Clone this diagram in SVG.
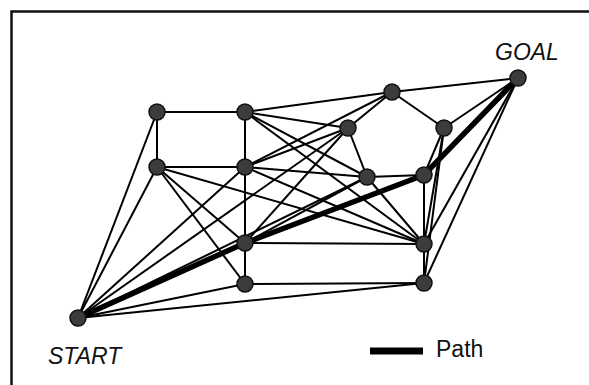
<svg xmlns="http://www.w3.org/2000/svg" width="589" height="385" viewBox="0 0 589 385">
<style>
.frame{fill:none;stroke:#111;stroke-width:2.5}
.e{stroke:#000;stroke-width:2;fill:none}
.p{stroke:#000;stroke-width:5.5;fill:none;stroke-linecap:round}
.n{fill:#3c3c3c;stroke:#111;stroke-width:1.5}
.lbl{font-family:"Liberation Sans",Arial,sans-serif;font-size:23px;fill:#111}
.it{font-style:italic}
</style>
<rect class="frame" x="11.5" y="11.5" width="620" height="420"/>
<g id="connectors">
<line class="e" x1="157" y1="112" x2="245" y2="112"/>
<line class="e" x1="157" y1="112" x2="157" y2="167"/>
<line class="e" x1="245" y1="112" x2="245" y2="167"/>
<line class="e" x1="157" y1="167" x2="245" y2="167"/>
<line class="e" x1="392" y1="92" x2="348" y2="128"/>
<line class="e" x1="392" y1="92" x2="444" y2="128"/>
<line class="e" x1="348" y1="128" x2="367" y2="177"/>
<line class="e" x1="367" y1="177" x2="424" y2="175"/>
<line class="e" x1="444" y1="128" x2="424" y2="175"/>
<line class="e" x1="245" y1="243" x2="245" y2="284"/>
<line class="e" x1="245" y1="243" x2="424" y2="244"/>
<line class="e" x1="245" y1="284" x2="424" y2="283"/>
<line class="e" x1="424" y1="244" x2="424" y2="283"/>
<line class="e" x1="78" y1="318" x2="157" y2="112"/>
<line class="e" x1="78" y1="318" x2="157" y2="167"/>
<line class="e" x1="78" y1="318" x2="245" y2="167"/>
<line class="e" x1="78" y1="318" x2="348" y2="128"/>
<line class="e" x1="78" y1="318" x2="367" y2="177"/>
<line class="e" x1="78" y1="318" x2="245" y2="284"/>
<line class="e" x1="78" y1="318" x2="424" y2="283"/>
<line class="e" x1="518" y1="78" x2="392" y2="92"/>
<line class="e" x1="518" y1="78" x2="444" y2="128"/>
<line class="e" x1="518" y1="78" x2="424" y2="244"/>
<line class="e" x1="518" y1="78" x2="424" y2="283"/>
<line class="e" x1="245" y1="112" x2="392" y2="92"/>
<line class="e" x1="245" y1="112" x2="348" y2="128"/>
<line class="e" x1="245" y1="112" x2="367" y2="177"/>
<line class="e" x1="245" y1="112" x2="424" y2="244"/>
<line class="e" x1="157" y1="167" x2="245" y2="243"/>
<line class="e" x1="157" y1="167" x2="245" y2="284"/>
<line class="e" x1="157" y1="167" x2="424" y2="244"/>
<line class="e" x1="245" y1="167" x2="392" y2="92"/>
<line class="e" x1="245" y1="167" x2="348" y2="128"/>
<line class="e" x1="245" y1="167" x2="367" y2="177"/>
<line class="e" x1="245" y1="167" x2="245" y2="243"/>
<line class="e" x1="245" y1="167" x2="424" y2="244"/>
<line class="e" x1="348" y1="128" x2="245" y2="243"/>
<line class="e" x1="444" y1="128" x2="424" y2="244"/>
<line class="e" x1="444" y1="128" x2="424" y2="283"/>
<line class="e" x1="367" y1="177" x2="245" y2="243"/>
<line class="e" x1="367" y1="177" x2="424" y2="244"/>
<line class="e" x1="424" y1="175" x2="424" y2="244"/>
<polyline class="p" points="78,318 245,243 424,175 518,78"/>
</g>
<g id="S"><circle class="n" cx="78" cy="318" r="8"/></g>
<g id="T"><circle class="n" cx="518" cy="78" r="8"/></g>
<g id="A"><circle class="n" cx="157" cy="112" r="8"/></g>
<g id="B"><circle class="n" cx="245" cy="112" r="8"/></g>
<g id="C"><circle class="n" cx="157" cy="167" r="8"/></g>
<g id="D"><circle class="n" cx="245" cy="167" r="8"/></g>
<g id="E"><circle class="n" cx="392" cy="92" r="8"/></g>
<g id="F"><circle class="n" cx="348" cy="128" r="8"/></g>
<g id="G"><circle class="n" cx="444" cy="128" r="8"/></g>
<g id="H"><circle class="n" cx="367" cy="177" r="8"/></g>
<g id="I"><circle class="n" cx="424" cy="175" r="8"/></g>
<g id="J"><circle class="n" cx="245" cy="243" r="8"/></g>
<g id="K"><circle class="n" cx="245" cy="284" r="8"/></g>
<g id="L"><circle class="n" cx="424" cy="244" r="8"/></g>
<g id="M"><circle class="n" cx="424" cy="283" r="8"/></g>
<text class="lbl it" x="495" y="60">GOAL</text>
<text class="lbl it" x="48" y="364">START</text>
<g id="legend">
<line x1="370" y1="351" x2="423" y2="351" stroke="#000" stroke-width="7"/>
<text class="lbl" x="436" y="357">Path</text>
</g>
</svg>
